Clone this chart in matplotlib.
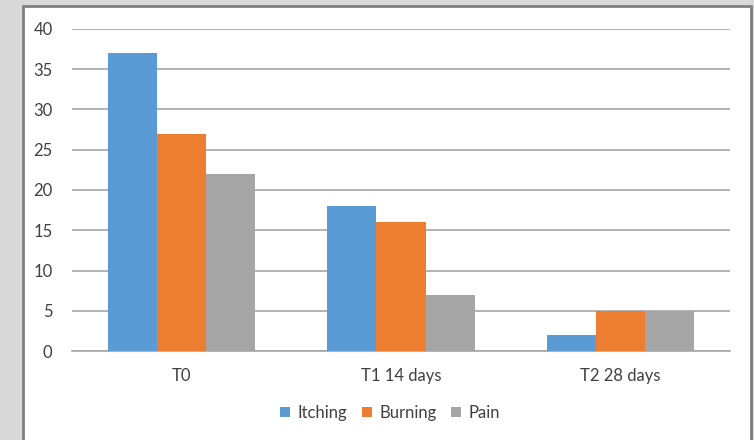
import matplotlib.pyplot as plt
import numpy as np
from matplotlib.patches import Rectangle

# dane
kategorie = ['T0', 'T1 14 days', 'T2 28 days']
itching = [37, 18, 2]
burning = [27, 16, 5]
pain = [22, 7, 5]
serie = ['Itching', 'Burning', 'Pain']
kolory = ['#5B9BD5', '#ED7D31', '#A5A5A5']

plt.rcParams['font.family'] = ['Lato', 'DejaVu Sans']

W, H = 754, 440
fig = plt.figure(figsize=(W / 100, H / 100), dpi=100)
fig.patch.set_facecolor('#D9D9D9')

# biala ramka wykresu
ramka = Rectangle((23 / W, -0.05), (751 - 23) / W, (H - 6) / H + 0.05,
                  transform=fig.transFigure, facecolor='white',
                  edgecolor='#7F7F7F', linewidth=2, zorder=-10)
fig.patches.append(ramka)

ax = fig.add_axes([72 / W, (H - 351) / H, (730 - 72) / W, (351 - 29) / H])
ax.set_facecolor('none')
ax.set_zorder(5)

x = np.arange(len(kategorie))
szer = 0.224
for i, (wart, nazwa, kol) in enumerate(zip([itching, burning, pain], serie, kolory)):
    ax.bar(x + (i - 1) * szer, wart, szer, color=kol, label=nazwa, zorder=3)

ax.set_xlim(-0.5, 2.5)
ax.set_ylim(0, 40)
ax.set_yticks(range(0, 41, 5))
ax.set_xticks(x)
ax.set_xticklabels(kategorie)
ax.yaxis.grid(True, color='#A6A6A6', linewidth=1.2, zorder=0)
for s in ['top', 'right', 'left']:
    ax.spines[s].set_visible(False)
ax.spines['bottom'].set_color('#A6A6A6')
ax.spines['bottom'].set_linewidth(1.2)
ax.tick_params(axis='both', length=0, labelsize=12, labelcolor='#404040')
ax.tick_params(axis='x', pad=12)
ax.tick_params(axis='y', pad=14)

leg = fig.legend(loc='center', bbox_to_anchor=(390 / W, 1 - 413 / H), ncol=3,
                 frameon=False, fontsize=12, handlelength=0.6, handleheight=0.6,
                 handletextpad=0.45, columnspacing=0.9, labelcolor='#404040')
leg.set_zorder(6)

plt.savefig('out.png', dpi=100, facecolor=fig.get_facecolor())
